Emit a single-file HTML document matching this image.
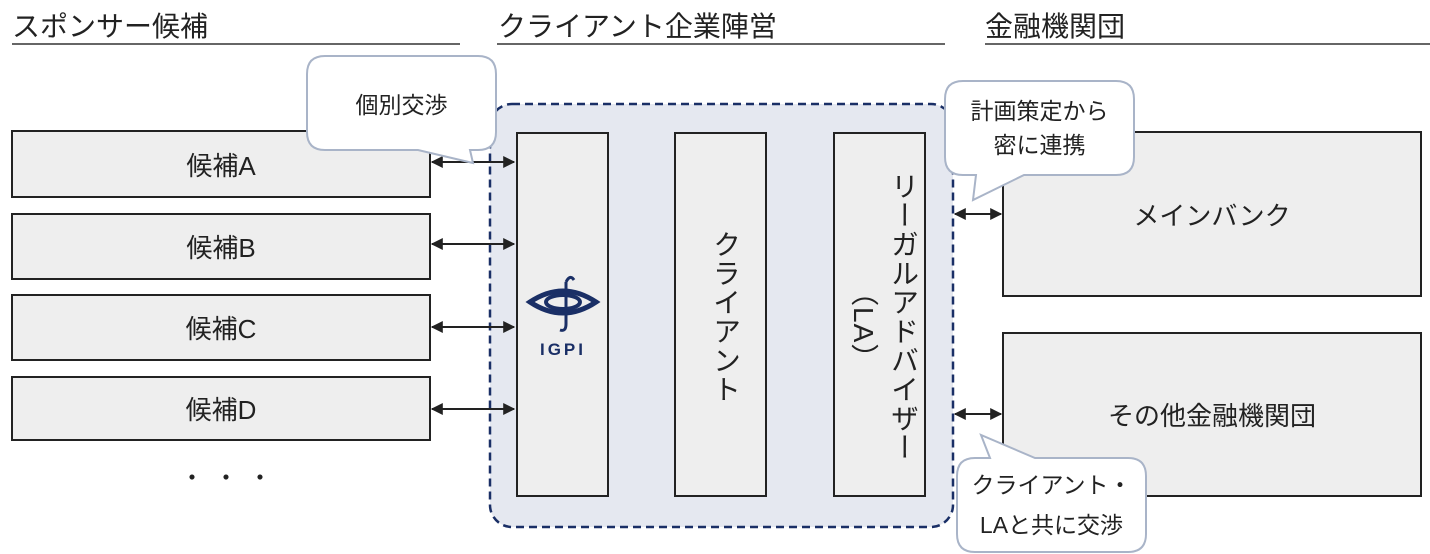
<!DOCTYPE html>
<html><head><meta charset="utf-8"><style>
body{margin:0;width:1430px;height:554px;background:#fff;position:relative;overflow:hidden;font-family:"Liberation Sans","Noto Sans CJK JP",sans-serif;color:#222}
.a{position:absolute}
.h{font-size:28px;top:5px}
.t{display:flex;align-items:center;justify-content:center;text-align:center}
.v{writing-mode:vertical-rl;font-size:28px;letter-spacing:1px}
</style></head><body>
<svg class="a" style="left:0;top:0" width="1430" height="554">
<defs><marker id="m" viewBox="0 0 10 10" refX="9" refY="5" markerWidth="6" markerHeight="6" orient="auto-start-reverse"><path d="M0,0L10,5L0,10z" fill="#222"/></marker></defs>
<g stroke="#333" stroke-width="1.5"><line x1="12" y1="44" x2="460" y2="44"/><line x1="497" y1="44" x2="945" y2="44"/><line x1="985" y1="44" x2="1430" y2="44"/></g>
<rect x="490" y="104" width="463" height="423" rx="22" fill="#e5e8f0" stroke="#1a2f66" stroke-width="2.5" stroke-dasharray="8,5"/>
<g fill="#eee" stroke="#222" stroke-width="2">
<rect x="12" y="131" width="418" height="66"/><rect x="12" y="214" width="418" height="65"/><rect x="12" y="295" width="418" height="65"/><rect x="12" y="377" width="418" height="63"/>
<rect x="517" y="133" width="91" height="363"/><rect x="675" y="133" width="91" height="363"/><rect x="834" y="133" width="91" height="363"/>
<rect x="1003" y="132" width="418" height="164"/><rect x="1003" y="333" width="418" height="163"/>
</g>
<g stroke="#222" stroke-width="2" marker-start="url(#m)" marker-end="url(#m)">
<line x1="432" y1="162" x2="514" y2="162"/><line x1="432" y1="244" x2="514" y2="244"/><line x1="432" y1="327" x2="514" y2="327"/><line x1="432" y1="409" x2="514" y2="409"/>
<line x1="955" y1="214" x2="1001" y2="214"/><line x1="955" y1="414" x2="1001" y2="414"/>
</g>
<g fill="#fff" stroke="#a9b4c8" stroke-width="2">
<path d="M325,56H478Q496,56 496,74V132Q496,150 478,150H470L473,163L418,150H325Q307,150 307,132V74Q307,56 325,56Z"/>
<path d="M963,81H1116Q1134,81 1134,99V157Q1134,175 1116,175H1024L973,200L976,175H963Q945,175 945,157V99Q945,81 963,81Z"/>
<path d="M975,458H990L981,435L1035,458H1128Q1146,458 1146,476V534Q1146,552 1128,552H975Q957,552 957,534V476Q957,458 975,458Z"/>
</g>
<g fill="#1a2f66">
<path d="M530,302q33,-22 66,0q-33,22 -66,0z" fill="none" stroke="#1a2f66" stroke-width="5"/>
<ellipse cx="563" cy="302" rx="17" ry="7" fill="none" stroke="#1a2f66" stroke-width="4"/>
<path d="M566,282q4,-8 8,-2M566,282v42q0,8 -6,6" fill="none" stroke="#1a2f66" stroke-width="3"/>
<text x="563" y="355" font-size="17" font-weight="bold" text-anchor="middle" letter-spacing="3" font-family="Liberation Sans">IGPI</text>
</g>
</svg>
<div class="a h" style="left:12px">スポンサー候補</div>
<div class="a h" style="left:498px">クライアント企業陣営</div>
<div class="a h" style="left:985px">金融機関団</div>
<div class="a t" style="left:12px;top:131px;width:418px;height:66px;font-size:26px">候補A</div>
<div class="a t" style="left:12px;top:214px;width:418px;height:65px;font-size:26px">候補B</div>
<div class="a t" style="left:12px;top:295px;width:418px;height:65px;font-size:26px">候補C</div>
<div class="a t" style="left:12px;top:377px;width:418px;height:63px;font-size:26px">候補D</div>
<div class="a" style="left:180px;top:458px;font-size:24px;letter-spacing:10px">・・・</div>
<div class="a t" style="left:1003px;top:132px;width:418px;height:164px;font-size:26px">メインバンク</div>
<div class="a t" style="left:1003px;top:333px;width:418px;height:163px;font-size:26px">その他金融機関団</div>
<div class="a t" style="left:307px;top:80px;width:189px;height:46px;font-size:23px">個別交渉</div>
<div class="a t" style="left:945px;top:86px;width:189px;height:84px;font-size:23px;line-height:34px">計画策定から<br>密に連携</div>
<div class="a t" style="left:957px;top:463px;width:189px;height:84px;font-size:23px;line-height:40px">クライアント・<br>LAと共に交渉</div>
<div class="a v" style="left:705px;top:230px">クライアント</div>
<div class="a v" style="left:883px;top:172px">リーガルアドバイザー</div>
<div class="a v" style="left:843px;top:278px">（LA）</div>
</body></html>
